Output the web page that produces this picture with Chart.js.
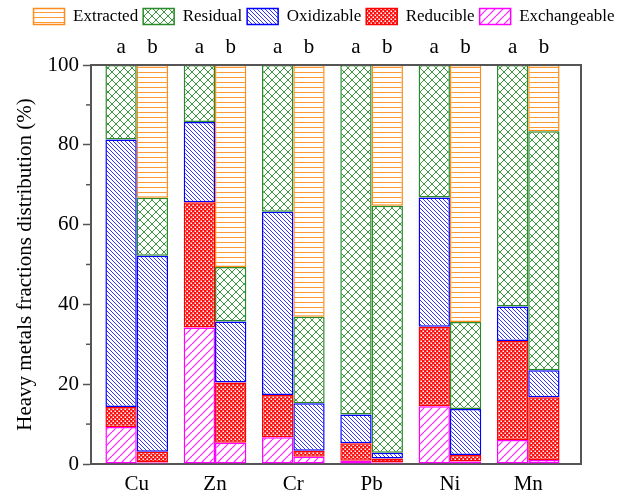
<!DOCTYPE html>
<html>
<head>
<meta charset="utf-8">
<script src="https://cdn.jsdelivr.net/npm/chart.js@4.4.0/dist/chart.umd.min.js"></script>
<style>
html,body{margin:0;padding:0;background:#fff;}
#wrap{width:620px;height:496px;}
</style>
</head>
<body>
<div id="wrap"><canvas id="c" width="620" height="496"></canvas></div>
<script>
const metals = ['Cu', 'Zn', 'Cr', 'Pb', 'Ni', 'Mn'];
const groupLabels = ['a', 'b'];
// segment values (%) per sample a / b
const exchangeableA = [9.3, 34.2, 6.7, 0.8, 14.5, 6.0];
const exchangeableB = [0.4, 5.3, 1.8, 0.4, 0.6, 1.0];
const reducibleA    = [5.0, 31.4, 10.6, 4.4, 19.9, 24.8];
const reducibleB    = [2.7, 15.1, 1.5, 1.0, 1.65, 15.7];
const oxidizableA   = [67.0, 20.1, 45.9, 7.2, 32.4, 8.7];
const oxidizableB   = [49.1, 15.3, 11.9, 1.4, 11.55, 6.8];
const residualA     = [18.7, 14.3, 36.8, 87.6, 33.2, 60.5];
const residualB     = [14.5, 13.7, 21.7, 61.9, 21.8, 59.9];
const extractedB    = [33.3, 50.6, 63.1, 35.3, 64.4, 16.6];
const yTickValues = [0, 20, 40, 60, 80, 100];

const FONT = "'Liberation Serif', 'Times New Roman', serif";

function hatch(type, color) {
  const s = {h: 5, x: 8, bs: 4, fs: 8, dot: 4}[type];
  const c = document.createElement('canvas');
  c.width = s; c.height = s;
  const g = c.getContext('2d');
  g.fillStyle = '#fff'; g.fillRect(0, 0, s, s);
  g.strokeStyle = color; g.lineWidth = (type === 'fs') ? 1.2 : 1;
  if (type === 'h') {
    g.beginPath(); g.moveTo(0, 2.5); g.lineTo(s, 2.5); g.stroke();
  } else if (type === 'bs' || type === 'x') {
    for (const x0 of [-s, 0, s]) { g.beginPath(); g.moveTo(x0, 0); g.lineTo(x0 + s, s); g.stroke(); }
  }
  if (type === 'fs' || type === 'x') {
    for (const x0 of [-s, 0, s]) { g.beginPath(); g.moveTo(x0, s); g.lineTo(x0 + s, 0); g.stroke(); }
  }
  if (type === 'dot') {
    g.fillStyle = color; g.fillRect(0, 0, s, s);
    g.fillStyle = '#fff';
    g.fillRect(0.5, 0.5, 1.5, 1.5);
    g.fillRect(2.5, 2.5, 1.5, 1.5);
  }
  return g.createPattern(c, 'repeat');
}

const styles = {
  Exchangeable: {p: hatch('fs', '#FF22FF'), b: '#FF00FF'},
  Reducible:    {p: hatch('dot', '#FF1010'), b: '#FF0000'},
  Oxidizable:   {p: hatch('bs', '#3333FF'), b: '#0000FF'},
  Residual:     {p: hatch('x', '#3A9A3A'), b: '#2A8A2A'},
  Extracted:    {p: hatch('h', '#FF9A33'), b: '#FF8C1A'}
};

function ds(label, values, stack) {
  return {
    label: label,
    stack: stack,
    data: values.map((v, i) => ({x: i + 1, y: v})),
    backgroundColor: styles[label].p,
    borderColor: styles[label].b,
    borderWidth: 1.5,
    borderSkipped: false,
    categoryPercentage: 0.8,
    barPercentage: 1.0
  };
}

const datasets = [
  ds('Exchangeable', exchangeableA, 'a'),
  ds('Exchangeable', exchangeableB, 'b'),
  ds('Reducible', reducibleA, 'a'),
  ds('Reducible', reducibleB, 'b'),
  ds('Oxidizable', oxidizableA, 'a'),
  ds('Oxidizable', oxidizableB, 'b'),
  ds('Residual', residualA, 'a'),
  ds('Residual', residualB, 'b'),
  ds('Extracted', extractedB, 'b')
];

const AX = '#555';

const framePlugin = {
  id: 'frame',
  beforeInit(chart) {
    const fit = chart.legend.fit;
    chart.legend.fit = function () { fit.bind(chart.legend)(); this.height = 62; };
  },
  afterDraw(chart) {
    const ctx = chart.ctx, a = chart.chartArea, y = chart.scales.y;
    ctx.save();
    ctx.strokeStyle = AX; ctx.lineWidth = 2;
    ctx.beginPath(); ctx.moveTo(a.left - 1, a.top); ctx.lineTo(a.right + 1, a.top); ctx.stroke();
    ctx.lineWidth = 1.5;
    for (let v = 10; v < 100; v += 20) {
      const py = y.getPixelForValue(v);
      ctx.beginPath(); ctx.moveTo(a.left - 5, py); ctx.lineTo(a.left, py); ctx.stroke();
    }
    ctx.restore();
  },
  afterDatasetsDraw(chart) {
    const ctx = chart.ctx;
    ctx.save();
    ctx.fillStyle = '#000';
    ctx.font = '21px ' + FONT;
    ctx.textAlign = 'center';
    ctx.textBaseline = 'middle';
    [0, 1].forEach((di) => {
      const meta = chart.getDatasetMeta(di);
      meta.data.forEach((el) => ctx.fillText(groupLabels[di], el.x, 47));
    });
    ctx.restore();
  }
};

new Chart(document.getElementById('c'), {
  type: 'bar',
  data: {datasets: datasets},
  options: {
    responsive: false,
    animation: false,
    events: [],
    layout: {padding: {left: 28, right: 0, top: 3, bottom: 0}},
    plugins: {
      tooltip: {enabled: false},
      legend: {
        position: 'top',
        reverse: true,
        labels: {
          filter: (item, data) => data.datasets[item.datasetIndex].stack === 'b',
          boxWidth: 31,
          boxHeight: 16,
          padding: 5,
          color: '#000',
          font: {family: FONT, size: 17}
        }
      }
    },
    scales: {
      x: {
        type: 'linear',
        offset: false,
        grace: 0,
        min: 0.416,
        max: 6.674,
        stacked: true,
        afterBuildTicks: (s) => { s.ticks = metals.map((m, i) => ({value: i + 1})); },
        afterFit: (s) => { s.height = 32; },
        ticks: {
          autoSkip: false, maxRotation: 0, padding: 8,
          color: '#000', font: {family: FONT, size: 21},
          callback: (v) => metals[v - 1] || ''
        },
        grid: {display: false, drawTicks: false, offset: false},
        border: {display: true, color: AX, width: 2}
      },
      y: {
        min: 0, max: 100,
        stacked: true,
        afterBuildTicks: (s) => { s.ticks = yTickValues.map(v => ({value: v})); },
        afterFit: (s) => { s.width = 63; },
        ticks: {
          padding: 4, color: '#000', font: {family: FONT, size: 21},
          callback: (v) => String(v)
        },
        grid: {drawOnChartArea: false, tickLength: 8, tickColor: AX, tickWidth: 1.5},
        border: {display: true, color: AX, width: 2},
        title: {
          display: true,
          text: 'Heavy metals fractions distribution (%)',
          color: '#000',
          font: {family: FONT, size: 21, lineHeight: 1},
          padding: {top: -13, bottom: 0}
        }
      },
      y2: {
        position: 'right',
        min: 0, max: 100,
        afterFit: (s) => { s.width = 39; },
        ticks: {display: false},
        grid: {display: false, drawTicks: false},
        border: {display: true, color: AX, width: 2}
      }
    }
  },
  plugins: [framePlugin]
});
</script>
</body>
</html>
